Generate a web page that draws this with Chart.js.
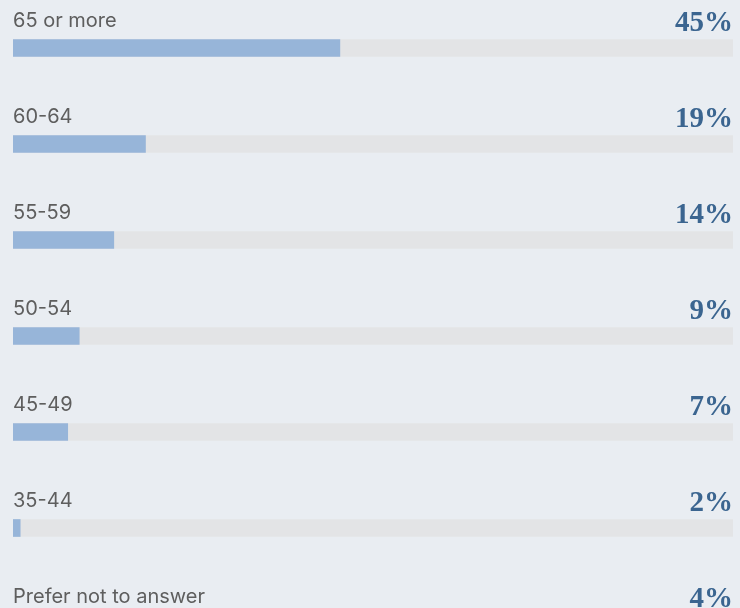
<!DOCTYPE html>
<html>
<head>
<meta charset="utf-8">
<script src="https://cdn.jsdelivr.net/npm/chart.js@4"></script>
<style>
  html, body { margin: 0; padding: 0; background: #e9edf2; overflow: hidden; }
  #wrap { position: relative; width: 740px; height: 672px; }
</style>
</head>
<body>
<div id="wrap"><canvas id="myChart"></canvas></div>
<script>
  // age groups and share of respondents (%)
  var categories = ['65 or more', '60-64', '55-59', '50-54', '45-49', '35-44', 'Prefer not to answer'];
  // bar lengths
  var values = [45.4, 18.4, 14, 9.2, 7.6, 1, 4];
  var valueLabels = ['45%', '19%', '14%', '9%', '7%', '2%', '4%'];
  var trackMax = 100;

  var ctx = document.getElementById('myChart');

  // category name above each bar, percentage at the right end
  var rowLabels = {
    id: 'rowLabels',
    afterDatasetsDraw: function(chart) {
      var c = chart.ctx;
      var y = chart.scales.y;
      var area = chart.chartArea;
      c.save();
      categories.forEach(function(name, i) {
        var cy = y.getPixelForValue(i);
        c.textBaseline = 'alphabetic';
        c.textAlign = 'left';
        c.fillStyle = '#5e5e5e';
        c.font = '20px Inter, "Noto Sans", sans-serif';
        c.fillText(name, area.left, cy - 21);
        c.textAlign = 'right';
        c.fillStyle = '#3b6590';
        c.font = 'bold 29px "Liberation Serif", serif';
        c.fillText(valueLabels[i], area.right, cy - 17.5);
      });
      c.restore();
    }
  };

  new Chart(ctx, {
    type: 'bar',
    data: {
      labels: categories,
      datasets: [{
        data: values,
        backgroundColor: '#97b5d9',
        barThickness: 17,
        grouped: false
      }, {
        data: categories.map(function() { return trackMax; }),
        backgroundColor: '#e3e4e6',
        barThickness: 17,
        grouped: false
      }]
    },
    options: {
      indexAxis: 'y',
      responsive: true,
      maintainAspectRatio: false,
      animation: false,
      layout: { padding: { left: 13, right: 7, top: 0, bottom: 0 } },
      scales: {
        x: { display: false, min: 0, max: trackMax },
        y: { display: false }
      },
      plugins: {
        legend: { display: false },
        tooltip: { enabled: false }
      }
    },
    plugins: [rowLabels]
  });
</script>
</body>
</html>
